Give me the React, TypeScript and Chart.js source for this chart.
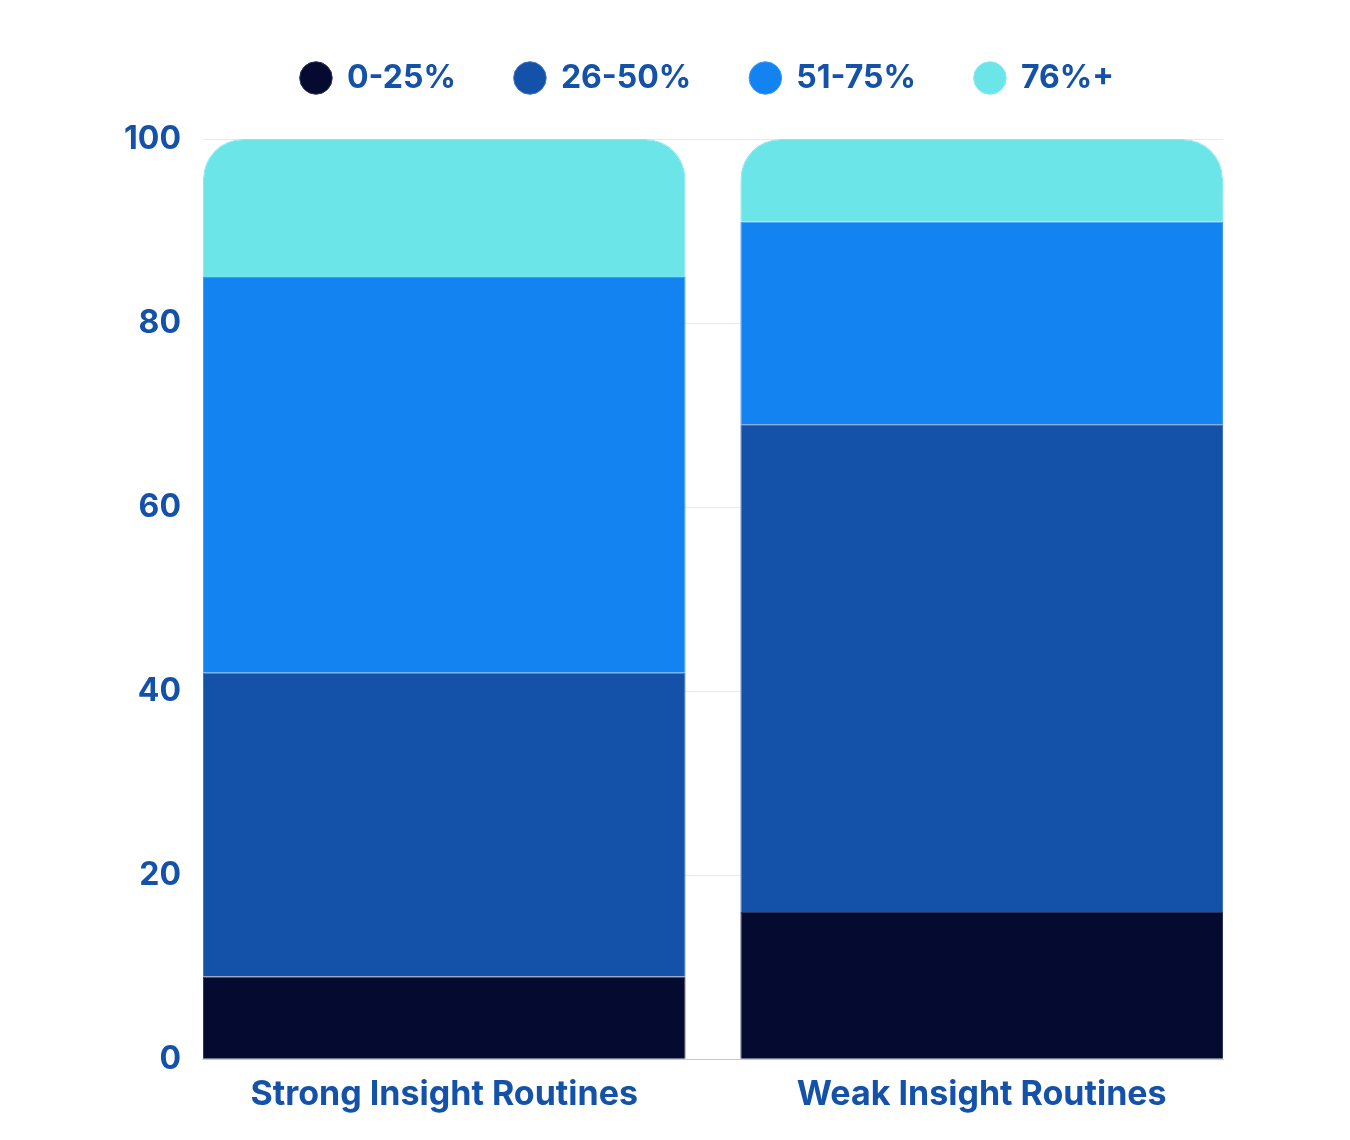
import { useEffect, useRef } from 'react'
import { Chart, registerables } from 'chart.js'

Chart.register(...registerables)

const categories = ['Strong Insight Routines', 'Weak Insight Routines']
const seriesLabels = ['0-25%', '26-50%', '51-75%', '76%+']
const band0to25 = [9, 16]
const band26to50 = [33, 53]
const band51to75 = [43, 22]
const band76plus = [15, 9]
const yTicks = [0, 20, 40, 60, 80, 100]

const colors = ['#050B30', '#1452AA', '#1383F2', '#6CE5E8']
const edgeColors = ['#2C3358', '#3F72C0', '#3D9AF5', '#85EAEC']
const textColor = '#1452AA'
const fontFamily = 'Inter, "Open Sans", sans-serif'

// pushes the legend up/right and leaves room under it, like the reference
const legendSpacer = {
  id: 'legendSpacer',
  beforeInit(chart: any) {
    const legend = chart.legend
    if (!legend) return
    const fit = legend.fit
    legend.fit = function () {
      fit.call(this)
      this.height += 30
    }
  },
  afterLayout(chart: any) {
    const legend = chart.legend
    if (!legend) return
    legend.left += 45
    legend.right += 45
    legend.top -= 5
    legend.bottom -= 5
  },
}

export default function App() {
  const chartRef = useRef<HTMLCanvasElement>(null)
  const chartInstance = useRef<Chart | null>(null)

  useEffect(() => {
    if (!chartRef.current) return
    if (chartInstance.current) chartInstance.current.destroy()
    const ctx = chartRef.current.getContext('2d')
    if (!ctx) return

    const values = [band0to25, band26to50, band51to75, band76plus]

    chartInstance.current = new Chart(ctx, {
      type: 'bar',
      data: {
        datasets: values.map((data, i) => ({
          label: seriesLabels[i],
          data: data.map((v, idx) => ({ x: idx, y: v })),
          backgroundColor: colors[i],
          borderColor: edgeColors[i],
          borderWidth: 1,
          borderSkipped: 'start' as const,
          borderRadius: i === values.length - 1 ? { topLeft: 40, topRight: 40, bottomLeft: 0, bottomRight: 0 } : 0,
          barPercentage: 0.898,
          categoryPercentage: 1,
        })),
      },
      plugins: [legendSpacer],
      options: {
        responsive: true,
        maintainAspectRatio: false,
        animation: false,
        layout: {
          padding: { left: 94, right: 119, top: 0, bottom: 10 },
        },
        plugins: {
          legend: {
            position: 'top' as const,
            labels: {
              usePointStyle: true,
              pointStyle: 'circle',
              boxWidth: 30,
              boxHeight: 23,
              padding: 59,
              color: textColor,
              font: { family: fontFamily, size: 32, weight: 'bold' },
            },
          },
          tooltip: { enabled: false },
        },
        scales: {
          x: {
            type: 'linear',
            stacked: true,
            offset: false,
            bounds: 'data',
            min: -0.449,
            max: 1.449,
            afterBuildTicks: (axis) => {
              axis.ticks = categories.map((_, i) => ({ value: i }))
            },
            grid: { display: false, offset: false },
            border: { display: true, dash: [2, 5], color: '#b8cde0' },
            ticks: {
              color: textColor,
              maxRotation: 0,
              autoSkip: false,
              font: { family: fontFamily, size: 34, weight: 'bold' },
              padding: 7,
              callback: (v) => categories[Number(v)] ?? '',
            },
          },
          y: {
            stacked: true,
            min: 0,
            max: 100,
            afterBuildTicks: (axis) => {
              axis.ticks = yTicks.map(v => ({ value: v }))
            },
            grid: {
              color: (c) => (c.tick && c.tick.value === 0 ? 'rgba(0,0,0,0)' : '#e6e9ee'),
              drawTicks: false,
            },
            border: { display: false },
            ticks: {
              color: textColor,
              font: { family: fontFamily, size: 32, weight: 'bold' },
              padding: 22,
            },
          },
        },
      },
    })

    return () => {
      if (chartInstance.current) {
        chartInstance.current.destroy()
        chartInstance.current = null
      }
    }
  }, [])

  return (
    <div style={{ width: 1334, height: 1124, position: 'relative' }}>
      <canvas ref={chartRef} />
    </div>
  )
}
